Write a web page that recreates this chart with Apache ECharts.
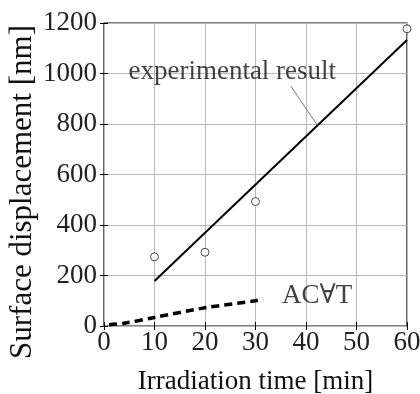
<!DOCTYPE html>
<html>
<head>
<meta charset="utf-8">
<script src="https://cdn.jsdelivr.net/npm/echarts@6/dist/echarts.min.js"></script>
<style>
  html, body { margin: 0; padding: 0; background: #fff; }
  #chart { width: 420px; height: 394px; }
</style>
</head>
<body>
<div id="chart"></div>
<script>
// measured points (min, nm)
const measured = [[10, 274], [20, 292], [30, 493], [60, 1177]]
// experimental result fit
const experimental = [[10, 178], [60, 1133]]
// AC∀T simulation
const acvt = [[1, 5], [4, 11], [10, 34], [20, 72], [30, 100], [31.5, 108]]
// leader line for the label
const leader = [[37.0, 950], [42.2, 796]]
const labels = [
  { name: 'experimental result', value: [25.4, 1005] },
  { name: 'AC\u2200T', value: [42.2, 120] }
]
const yTitle = 'Surface displacement [nm]'
const xTitle = 'Irradiation time [min]'

const FONT = '"Liberation Serif", "DejaVu Serif", serif'
const chart = echarts.init(document.getElementById('chart'))

const option = {
  animation: false,
  grid: {
    left: 104, right: 13, top: 23, bottom: 68, outerBoundsMode: 'none',
    show: true, borderColor: '#000', borderWidth: 1.2
  },
  graphic: [
    {
      type: 'text', x: 23, y: 192, rotation: Math.PI / 2,
      style: {
        text: yTitle, fontFamily: FONT, fontSize: 31, fill: '#111',
        align: 'center', verticalAlign: 'middle'
      }
    }
  ],
  xAxis: [
    {
      type: 'value', min: 0, max: 60, interval: 10,
      name: xTitle, nameLocation: 'middle', nameGap: 42,
      nameTextStyle: { fontFamily: FONT, fontSize: 27, color: '#111' },
      axisLine: { show: false },
      axisTick: { inside: true, length: 4, lineStyle: { color: '#000' } },
      axisLabel: { fontFamily: FONT, fontSize: 27, color: '#222', margin: 3 },
      splitLine: { lineStyle: { color: '#b8b8b8', width: 1 } }
    },
    {
      type: 'value', min: 0, max: 60, interval: 10, position: 'top',
      axisLine: { show: false },
      axisTick: { inside: true, length: 4, lineStyle: { color: '#000' } },
      axisLabel: { show: false }, splitLine: { show: false }
    }
  ],
  yAxis: [
    {
      type: 'value', min: 0, max: 1200, interval: 200,
      axisLine: { show: false },
      axisTick: { inside: true, length: 4, lineStyle: { color: '#000' } },
      axisLabel: { fontFamily: FONT, fontSize: 27, color: '#222', margin: 7, formatter: (v) => String(v) },
      splitLine: { lineStyle: { color: '#b8b8b8', width: 1 } }
    },
    {
      type: 'value', min: 0, max: 1200, interval: 200, position: 'right',
      axisLine: { show: false },
      axisTick: { inside: true, length: 4, lineStyle: { color: '#000' } },
      axisLabel: { show: false }, splitLine: { show: false }
    }
  ],
  series: [
    {
      type: 'line', data: experimental, symbol: 'none',
      lineStyle: { color: '#000', width: 2 }
    },
    {
      type: 'line', data: acvt, symbol: 'none', smooth: 0.3,
      lineStyle: { color: '#000', width: 3.5, type: [8, 5] }
    },
    {
      type: 'line', data: leader, symbol: 'none',
      lineStyle: { color: '#555', width: 0.8 }
    },
    {
      type: 'scatter', data: measured, symbol: 'circle', symbolSize: 8,
      itemStyle: { color: '#fff', borderColor: '#222', borderWidth: 1 }
    },
    {
      type: 'scatter', data: labels, symbolSize: 0,
      label: {
        show: true, position: 'inside', formatter: (p) => p.name,
        fontFamily: FONT, fontSize: 27, color: '#111'
      }
    }
  ]
}

chart.setOption(option)
</script>
</body>
</html>
